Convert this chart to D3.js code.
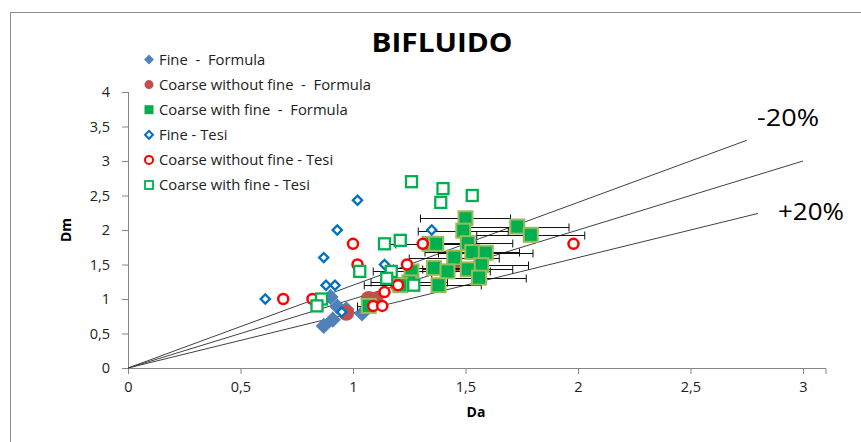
<!DOCTYPE html>
<html>
<head>
<meta charset="utf-8">
<script src="https://cdn.jsdelivr.net/npm/d3@7/dist/d3.min.js"></script>
<style>
  html, body { margin: 0; padding: 0; background: #fff; }
  svg { display: block; font-family: "Open Sans", Lato, sans-serif; }
  .pre { white-space: pre; }
</style>
</head>
<body>
<svg id="chart" width="861" height="442"></svg>
<script>
// Series: [Da, Dm]
const fineFormula = [[0.87, 0.61], [0.91, 0.70], [0.90, 1.03], [0.93, 0.89], [0.97, 0.85], [1.04, 0.79]];
const coarseNoFineFormula = [[1.07, 1.00], [1.10, 0.99], [0.97, 0.80], [1.45, 1.50], [1.20, 1.20]];
const coarseFineFormula = [
  [1.50, 2.17], [1.73, 2.05], [1.79, 1.93], [1.49, 1.99], [1.34, 1.80], [1.37, 1.80],
  [1.51, 1.81], [1.53, 1.68], [1.59, 1.67], [1.45, 1.60], [1.57, 1.49], [1.51, 1.43],
  [1.36, 1.45], [1.42, 1.40], [1.26, 1.40], [1.56, 1.31], [1.38, 1.20], [1.25, 1.24],
  [1.21, 1.20], [1.07, 0.90]
];
// Horizontal error (± Da) for the coarse-with-fine formula points
const coarseFineErr = [
  0.20, 0.23, 0.24, 0.20, 0.18, 0.18,
  0.20, 0.21, 0.21, 0.20, 0.21, 0.20,
  0.18, 0.19, 0.17, 0.21, 0.19, 0.17,
  0.16, 0.05
];
const fineTesi = [[0.61, 1.00], [1.02, 2.43], [0.93, 2.00], [0.87, 1.60], [0.88, 1.20], [0.92, 1.20], [1.14, 1.50], [1.35, 2.00], [0.95, 0.81]];
const coarseNoFineTesi = [[0.69, 1.00], [0.82, 1.00], [1.00, 1.80], [1.02, 1.50], [1.24, 1.50], [1.31, 1.80], [1.14, 1.10], [1.20, 1.20], [1.09, 0.90], [1.13, 0.90], [1.98, 1.80]];
const coarseFineTesi = [[1.26, 2.70], [1.40, 2.60], [1.39, 2.40], [1.53, 2.50], [1.14, 1.80], [1.21, 1.85], [1.03, 1.40], [1.17, 1.40], [1.15, 1.30], [0.86, 1.00], [0.84, 0.90], [1.27, 1.20]];

// Reference lines through the origin: slope and end Da
const refSlopes = [1.2, 1.0, 0.8];
const refEnds = [2.75, 3.0, 2.8];
const refLabels = ["-20%", "+20%"];

const xTicks = [0, 0.5, 1, 1.5, 2, 2.5, 3];
const yTicks = [0, 0.5, 1, 1.5, 2, 2.5, 3, 3.5, 4];
const legendLabels = [
  "Fine  -  Formula",
  "Coarse without fine  -  Formula",
  "Coarse with fine  -  Formula",
  "Fine - Tesi",
  "Coarse without fine - Tesi",
  "Coarse with fine - Tesi"
];

const svg = d3.select("#chart");
const comma = d => String(d).replace(".", ",");

const x = d3.scaleLinear().domain([0, 3.1]).range([128, 825.5]);
const y = d3.scaleLinear().domain([0, 4]).range([368, 92]);

// chart frame
svg.append("rect").attr("x", 10.5).attr("y", 12.5).attr("width", 900).attr("height", 500)
  .attr("fill", "none").attr("stroke", "#8c8c8c").attr("stroke-width", 1);

// title
svg.append("text").attr("x", 442).attr("y", 52).attr("text-anchor", "middle")
  .attr("font-size", 27).attr("font-weight", "bold").attr("fill", "#000")
  .attr("textLength", 141).attr("lengthAdjust", "spacingAndGlyphs").text("BIFLUIDO");

// axes
const axisColor = "#868686";
const gx = svg.append("g").attr("transform", `translate(0,${y(0)})`)
  .call(d3.axisBottom(x).tickValues(xTicks).tickFormat(comma).tickSize(6).tickPadding(8));
const gy = svg.append("g").attr("transform", `translate(${x(0)},0)`)
  .call(d3.axisLeft(y).tickValues(yTicks).tickFormat(comma).tickSize(6).tickPadding(12));
[gx, gy].forEach(g => {
  g.select(".domain").attr("stroke", axisColor);
  g.selectAll(".tick line").attr("stroke", axisColor);
  g.selectAll(".tick text").attr("font-size", 14.5).attr("fill", "#222").attr("font-family", "\"Open Sans\", sans-serif");
});
gy.select(".domain").attr("d", `M0.5,${y(4)}V${y(0)}`);

svg.append("text").attr("x", 476).attr("y", 417).attr("text-anchor", "middle")
  .attr("font-size", 14).attr("font-weight", "bold").text("Da");
svg.append("text").attr("transform", `translate(71,230) rotate(-90)`).attr("text-anchor", "middle")
  .attr("font-size", 14).attr("font-weight", "bold").text("Dm");

// reference lines
svg.append("g").selectAll("line").data(refSlopes).join("line")
  .attr("x1", x(0)).attr("y1", y(0))
  .attr("x2", (s, i) => x(refEnds[i])).attr("y2", (s, i) => y(s * refEnds[i]))
  .attr("stroke", "#404040").attr("stroke-width", 1);
svg.append("text").attr("x", 788).attr("y", 126).attr("text-anchor", "middle")
  .attr("font-size", 24).attr("fill", "#000")
  .attr("textLength", 62).attr("lengthAdjust", "spacingAndGlyphs").text(refLabels[0]);
svg.append("text").attr("x", 811).attr("y", 220).attr("text-anchor", "middle")
  .attr("font-size", 24).attr("fill", "#000")
  .attr("textLength", 66).attr("lengthAdjust", "spacingAndGlyphs").text(refLabels[1]);

// marker painters
function diamond(g, data, size, fill, stroke, sw) {
  g.selectAll(null).data(data).join("rect")
    .attr("x", -size / 2).attr("y", -size / 2).attr("width", size).attr("height", size)
    .attr("transform", d => `translate(${x(d[0])},${y(d[1])}) rotate(45)`)
    .attr("fill", fill).attr("stroke", stroke).attr("stroke-width", sw);
}
function circle(g, data, r, fill, stroke, sw) {
  g.selectAll(null).data(data).join("circle")
    .attr("cx", d => x(d[0])).attr("cy", d => y(d[1])).attr("r", r)
    .attr("fill", fill).attr("stroke", stroke).attr("stroke-width", sw);
}
function square(g, data, size, fill, stroke, sw) {
  g.selectAll(null).data(data).join("rect")
    .attr("x", d => x(d[0]) - size / 2).attr("y", d => y(d[1]) - size / 2)
    .attr("width", size).attr("height", size)
    .attr("fill", fill).attr("stroke", stroke).attr("stroke-width", sw);
}

const plot = svg.append("g");

// Fine - Formula
diamond(plot.append("g"), fineFormula, 11.5, "#4F81BD", "none", 0);
// Coarse without fine - Formula
circle(plot.append("g"), coarseNoFineFormula, 8, "#C0504D", "none", 0);

// Coarse with fine - Formula: error bars then markers
const eb = plot.append("g").attr("stroke", "#111").attr("stroke-width", 1);
coarseFineFormula.forEach((d, i) => {
  const e = coarseFineErr[i];
  const x0 = x(d[0] - e), x1 = x(d[0] + e), yy = Math.round(y(d[1])) + 0.5;
  eb.append("line").attr("x1", x0).attr("x2", x1).attr("y1", yy).attr("y2", yy);
  eb.append("line").attr("x1", x0).attr("x2", x0).attr("y1", yy - 4).attr("y2", yy + 4);
  eb.append("line").attr("x1", x1).attr("x2", x1).attr("y1", yy - 4).attr("y2", yy + 4);
});
square(plot.append("g"), coarseFineFormula, 14, "#00B050", "#9BBB59", 2);

// Tesi series (hollow)
diamond(plot.append("g"), fineTesi, 6.5, "#fff", "#0070C0", 2.3);
circle(plot.append("g"), coarseNoFineTesi, 5, "#fff", "#FF0000", 2.5);
square(plot.append("g"), coarseFineTesi, 11, "#fff", "#00B050", 2.3);

// legend
const legY0 = 59.5, legStep = 25.1, legX = 149;
const lg = svg.append("g");
legendLabels.forEach((t, i) => {
  const cy = legY0 + i * legStep;
  const m = lg.append("g").attr("transform", `translate(${legX},${cy})`);
  if (i === 0) m.append("rect").attr("x", -3.5).attr("y", -3.5).attr("width", 7).attr("height", 7).attr("transform", "rotate(45)").attr("fill", "#4F81BD");
  if (i === 1) m.append("circle").attr("r", 4.5).attr("fill", "#C0504D");
  if (i === 2) m.append("rect").attr("x", -4.5).attr("y", -4.5).attr("width", 9).attr("height", 9).attr("fill", "#00B050");
  if (i === 3) m.append("rect").attr("x", -2.8).attr("y", -2.8).attr("width", 5.6).attr("height", 5.6).attr("transform", "rotate(45)").attr("fill", "#fff").attr("stroke", "#0070C0").attr("stroke-width", 2);
  if (i === 4) m.append("circle").attr("r", 4).attr("fill", "#fff").attr("stroke", "#FF0000").attr("stroke-width", 2);
  if (i === 5) m.append("rect").attr("x", -4).attr("y", -4).attr("width", 8).attr("height", 8).attr("fill", "#fff").attr("stroke", "#00B050").attr("stroke-width", 1.8);
  lg.append("text").attr("class", "pre").attr("x", legX + 10).attr("y", cy + 5)
    .attr("font-size", 14.8).attr("fill", "#222").text(t);
});
</script>
</body>
</html>
